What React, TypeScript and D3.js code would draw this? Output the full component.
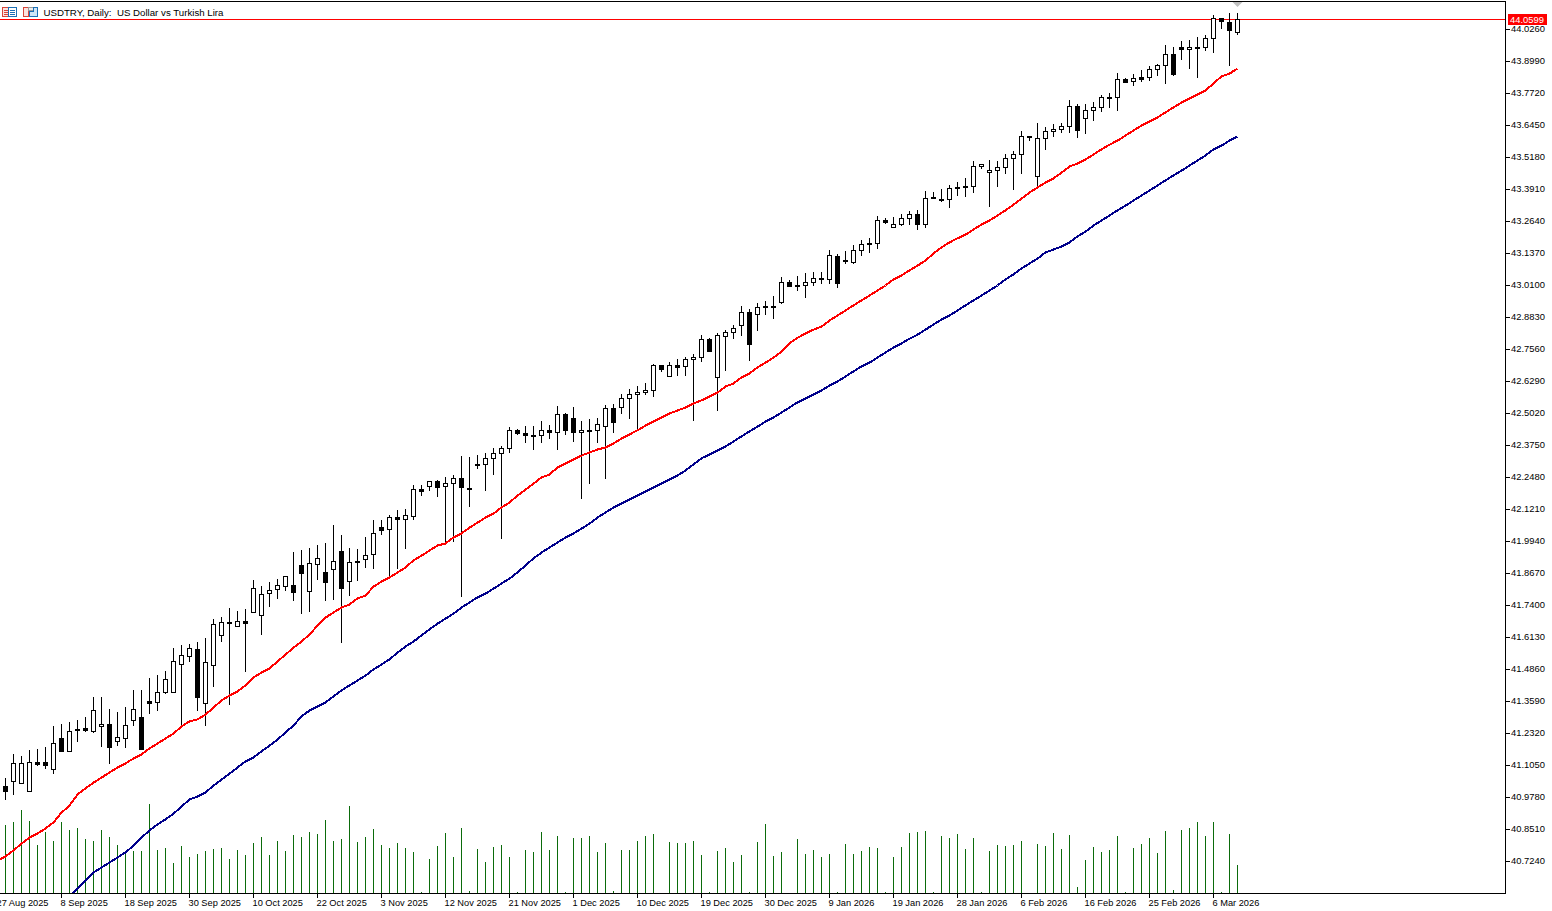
import React from "react";
import * as d3 from "d3";

const title = "USDTRY, Daily:  US Dollar vs Turkish Lira";
const lastBidLabel = "44.0599";

const opens = [41.021,41.041,41.033,41.002,41.117,41.117,41.089,41.212,41.161,41.248,
41.252,41.240,41.260,41.268,41.200,41.212,41.284,41.296,41.359,41.355,
41.395,41.395,41.506,41.538,41.565,41.351,41.502,41.621,41.670,41.656,
41.676,41.712,41.700,41.787,41.803,41.815,41.819,41.899,41.795,41.903,
41.871,41.883,41.954,41.835,41.911,41.923,41.942,42.049,42.042,42.089,
42.081,42.093,42.200,42.212,42.232,42.212,42.224,42.244,42.204,42.300,
42.300,42.324,42.343,42.363,42.435,42.423,42.411,42.415,42.435,42.427,
42.498,42.482,42.427,42.431,42.435,42.451,42.522,42.526,42.561,42.577,
42.585,42.593,42.692,42.649,42.692,42.689,42.716,42.724,42.795,42.645,
42.807,42.823,42.851,42.903,42.895,42.927,42.927,42.943,43.022,43.010,
43.010,43.022,43.038,43.034,43.125,43.109,43.101,43.149,43.177,43.177,
43.268,43.240,43.252,43.276,43.292,43.252,43.359,43.347,43.351,43.399,
43.403,43.403,43.482,43.458,43.466,43.478,43.514,43.530,43.597,43.443,
43.593,43.621,43.629,43.641,43.721,43.673,43.705,43.717,43.752,43.756,
43.828,43.820,43.835,43.835,43.867,43.883,43.927,43.954,43.947,43.950,
43.954,43.990,44.070,44.054,44.014];

const highs = [41.053,41.149,41.141,41.165,41.169,41.177,41.260,41.268,41.276,41.284,
41.296,41.375,41.375,41.327,41.315,41.335,41.403,41.403,41.450,41.462,
41.478,41.569,41.581,41.585,41.593,41.609,41.684,41.692,41.728,41.716,
41.724,41.839,41.815,41.831,41.843,41.855,41.950,41.958,41.966,41.978,
41.986,42.057,42.018,41.966,41.962,42.010,42.077,42.077,42.097,42.117,
42.121,42.216,42.216,42.232,42.236,42.248,42.256,42.332,42.328,42.335,
42.343,42.363,42.371,42.447,42.439,42.451,42.451,42.470,42.454,42.530,
42.502,42.526,42.470,42.478,42.482,42.534,42.538,42.577,42.597,42.609,
42.621,42.696,42.692,42.704,42.716,42.724,42.736,42.811,42.799,42.819,
42.831,42.851,42.927,42.915,42.939,42.947,42.967,43.042,43.030,43.046,
43.058,43.062,43.062,43.149,43.133,43.145,43.169,43.189,43.197,43.284,
43.276,43.280,43.292,43.304,43.308,43.383,43.379,43.391,43.407,43.419,
43.435,43.502,43.490,43.506,43.502,43.530,43.542,43.621,43.601,43.653,
43.637,43.649,43.653,43.744,43.729,43.729,43.737,43.764,43.772,43.851,
43.832,43.847,43.863,43.879,43.887,43.962,43.954,43.978,43.982,43.994,
44.002,44.082,44.070,44.090,44.090];

const lows = [40.970,40.990,41.033,41.002,41.105,41.093,41.073,41.161,41.161,41.200,
41.240,41.236,41.180,41.113,41.184,41.177,41.264,41.169,41.311,41.323,
41.391,41.395,41.268,41.518,41.323,41.264,41.418,41.597,41.347,41.656,
41.478,41.712,41.625,41.736,41.767,41.799,41.760,41.708,41.716,41.843,
41.760,41.763,41.593,41.779,41.839,41.891,41.887,42.022,41.851,41.887,
41.966,42.081,42.176,42.196,42.172,41.986,41.994,41.776,42.133,42.284,
42.196,42.260,42.006,42.347,42.419,42.387,42.359,42.387,42.403,42.359,
42.419,42.391,42.165,42.224,42.387,42.244,42.427,42.502,42.482,42.439,
42.577,42.569,42.669,42.649,42.653,42.653,42.474,42.708,42.748,42.514,
42.673,42.799,42.811,42.712,42.831,42.895,42.879,42.939,43.006,42.990,
42.962,43.010,43.018,43.018,43.002,43.097,43.097,43.129,43.141,43.157,
43.256,43.240,43.248,43.252,43.232,43.240,43.355,43.343,43.319,43.367,
43.363,43.379,43.474,43.323,43.403,43.454,43.391,43.454,43.585,43.407,
43.550,43.601,43.617,43.617,43.597,43.613,43.665,43.701,43.717,43.705,
43.816,43.804,43.820,43.824,43.843,43.812,43.843,43.907,43.871,43.835,
43.943,43.935,44.030,43.883,44.006];

const closes = [41.002,41.113,41.113,41.117,41.109,41.105,41.192,41.161,41.240,41.244,
41.244,41.323,41.268,41.177,41.216,41.264,41.327,41.169,41.351,41.395,
41.446,41.518,41.541,41.569,41.375,41.514,41.664,41.672,41.672,41.676,
41.668,41.807,41.783,41.799,41.819,41.855,41.791,41.867,41.907,41.927,
41.831,41.915,41.807,41.911,41.915,41.938,42.026,42.038,42.089,42.081,
42.097,42.200,42.192,42.232,42.208,42.224,42.244,42.208,42.200,42.296,
42.324,42.343,42.363,42.435,42.423,42.415,42.415,42.435,42.427,42.498,
42.435,42.427,42.435,42.435,42.458,42.522,42.466,42.561,42.577,42.585,
42.593,42.692,42.677,42.692,42.685,42.716,42.724,42.795,42.748,42.811,
42.823,42.839,42.903,42.776,42.923,42.923,42.923,43.022,43.006,43.006,
43.022,43.038,43.034,43.129,43.018,43.105,43.149,43.173,43.173,43.268,
43.260,43.252,43.276,43.292,43.252,43.355,43.355,43.351,43.395,43.395,
43.399,43.482,43.490,43.466,43.478,43.514,43.530,43.601,43.601,43.593,
43.621,43.629,43.641,43.721,43.625,43.705,43.717,43.756,43.756,43.828,
43.816,43.832,43.828,43.867,43.883,43.927,43.847,43.947,43.954,43.954,
43.990,44.070,44.058,44.022,44.066];

const tickVolumes = [6800,7100,8300,7200,4800,6100,5200,7100,6300,6500,
5400,5200,6300,5600,4800,4100,4200,4200,8900,4300,
4500,3000,4700,3600,3900,4200,4400,4500,3400,4300,
3800,5000,5600,3800,5200,4200,5800,5600,6100,5900,
7300,5200,5400,8700,5100,5600,6400,4800,4500,5000,
4500,4100,100,3400,4700,6000,3600,6500,200,4400,
3100,4600,4800,3600,100,4300,4100,6100,4300,5700,
100,5500,5500,5700,4100,5000,200,4300,4300,5200,
5700,5900,0,5100,5000,5000,5200,3800,100,4200,
4500,3100,3800,100,5100,6900,3700,4100,0,5400,
3900,4300,3600,3900,100,4900,3900,4200,4600,4500,
100,3600,4600,6000,6100,6200,100,5700,5500,5900,
4400,5500,100,4200,4800,4700,4800,5200,0,4900,
4700,6000,4400,5800,600,3300,4600,4100,4300,5700,
100,4500,4900,5500,4000,6200,300,6300,6500,7100,
5700,7100,100,5900,2800];

// the red average's first reading lies one bar before the first candle
const redStartBar = -1;
const redAverage = [40.728,40.744,40.768,40.795,40.819,40.835,40.855,40.879,40.918,40.946,40.990,
41.014,41.037,41.057,41.077,41.097,41.113,41.133,41.149,41.173,41.192,
41.212,41.232,41.260,41.280,41.288,41.307,41.335,41.363,41.383,41.399,
41.423,41.454,41.474,41.490,41.518,41.545,41.573,41.597,41.625,41.660,
41.692,41.712,41.732,41.744,41.768,41.779,41.815,41.835,41.851,41.871,
41.891,41.919,41.938,41.958,41.978,41.986,42.010,42.026,42.049,42.069,
42.089,42.105,42.129,42.149,42.176,42.200,42.224,42.248,42.260,42.288,
42.304,42.319,42.335,42.347,42.359,42.367,42.383,42.403,42.419,42.435,
42.454,42.470,42.486,42.502,42.514,42.526,42.542,42.554,42.569,42.585,
42.609,42.621,42.645,42.661,42.685,42.704,42.724,42.748,42.780,42.803,
42.819,42.835,42.847,42.871,42.891,42.911,42.931,42.951,42.970,42.990,
43.010,43.034,43.050,43.070,43.089,43.109,43.137,43.161,43.181,43.197,
43.212,43.232,43.252,43.268,43.288,43.308,43.331,43.355,43.379,43.399,
43.419,43.435,43.458,43.482,43.494,43.510,43.530,43.550,43.569,43.585,
43.605,43.625,43.645,43.661,43.677,43.697,43.717,43.736,43.752,43.768,
43.784,43.812,43.840,43.851,43.871];

const blueStartBar = 8;
const blueAverage = [40.585,40.617,40.649,40.680,40.700,40.720,40.740,40.760,40.787,40.819,
40.847,40.871,40.891,40.914,40.942,40.970,40.982,40.998,41.025,41.049,
41.073,41.097,41.121,41.137,41.161,41.184,41.208,41.236,41.264,41.300,
41.323,41.339,41.355,41.379,41.403,41.423,41.442,41.462,41.486,41.506,
41.526,41.553,41.577,41.597,41.621,41.645,41.668,41.688,41.708,41.732,
41.752,41.772,41.787,41.807,41.827,41.847,41.871,41.899,41.927,41.950,
41.970,41.990,42.010,42.026,42.045,42.065,42.089,42.109,42.129,42.145,
42.161,42.176,42.192,42.208,42.224,42.240,42.256,42.276,42.300,42.324,
42.339,42.355,42.371,42.391,42.411,42.431,42.450,42.470,42.486,42.506,
42.526,42.546,42.561,42.577,42.593,42.613,42.629,42.649,42.669,42.689,
42.704,42.724,42.744,42.764,42.780,42.799,42.815,42.835,42.855,42.875,
42.891,42.911,42.931,42.951,42.970,42.990,43.010,43.034,43.054,43.078,
43.097,43.117,43.141,43.153,43.165,43.181,43.205,43.224,43.248,43.268,
43.288,43.308,43.327,43.347,43.367,43.387,43.407,43.427,43.447,43.466,
43.486,43.506,43.526,43.550,43.565,43.585,43.601];

const priceTicks = ["44.0260","43.8990","43.7720","43.6450","43.5180","43.3910","43.2640","43.1370","43.0100",
"42.8830","42.7560","42.6290","42.5020","42.3750","42.2480","42.1210","41.9940","41.8670","41.7400",
"41.6130","41.4860","41.3590","41.2320","41.1050","40.9780","40.8510","40.7240"];

const dateTicks = ["27 Aug 2025","8 Sep 2025","18 Sep 2025","30 Sep 2025","10 Oct 2025","22 Oct 2025","3 Nov 2025",
"12 Nov 2025","21 Nov 2025","1 Dec 2025","10 Dec 2025","19 Dec 2025","30 Dec 2025","9 Jan 2026","19 Jan 2026",
"28 Jan 2026","6 Feb 2026","16 Feb 2026","25 Feb 2026","6 Mar 2026"];
const firstDateBar = -1;
const barsPerDateTick = 8;

const W = 1552, H = 911;
const plotRight = 1505.5, plotBottom = 893.5, plotTop = 1.5;
const font = "'Liberation Sans', Arial, sans-serif";

const x = d3.scaleLinear().domain([0, 154]).range([5.5, 1237.5]);
const y = d3.scaleLinear().domain([44.026, 40.724]).range([29.5, 861.5]);
const row = (p: number) => Math.round(y(p) - 0.5) + 0.5;
const vol = d3.scaleLinear().domain([0, 9000]).range([893, 803]);

const avgLine = (start: number) =>
  d3.line<number>().x((_, i) => x(start + i)).y((d) => y(d));

export default function App() {
  const lastX = x(opens.length - 1);
  const bidY = row(closes[closes.length - 1]);
  return (
    <svg width={W} height={H} viewBox={`0 0 ${W} ${H}`}
      style={{ position: "absolute", left: 0, top: 0, background: "#fff", fontFamily: font }}>
      <defs>
        <clipPath id="plot"><rect x={0} y={2} width={1505} height={891} /></clipPath>
      </defs>

      {/* volumes */}
      <g stroke="#0b6b0b" strokeWidth={1} shapeRendering="crispEdges">
        {tickVolumes.map((v, i) => v > 0 && (
          <line key={i} x1={x(i)} x2={x(i)} y1={893} y2={vol(v)} />
        ))}
      </g>

      {/* bid line */}
      <line x1={0} x2={plotRight} y1={bidY} y2={bidY} stroke="#ff0000" strokeWidth={1} shapeRendering="crispEdges" />

      {/* candles */}
      <g shapeRendering="crispEdges">
        {opens.map((o, i) => {
          const c = closes[i];
          const cx = x(i);
          const top = row(Math.max(o, c));
          const bot = row(Math.min(o, c));
          const up = c >= o;
          return (
            <g key={i}>
              <line x1={cx} x2={cx} y1={row(highs[i]) - 0.5} y2={row(lows[i]) + 0.5} stroke="#000" />
              {up ? (
                <rect x={cx - 2} y={top} width={4} height={bot - top} fill="#fff" stroke="#000" />
              ) : (
                <rect x={cx - 2.5} y={top - 0.5} width={5} height={bot - top + 1} fill="#000" />
              )}
            </g>
          );
        })}
      </g>

      {/* moving averages */}
      <g clipPath="url(#plot)" fill="none" strokeWidth={2} strokeLinejoin="round" shapeRendering="crispEdges">
        <path d={avgLine(blueStartBar)(blueAverage) ?? ""} stroke="#00008b" />
        <path d={avgLine(redStartBar)(redAverage) ?? ""} stroke="#ff0000" />
      </g>

      {/* last-bar marker */}
      <path d={d3.line()([[lastX - 5, 2], [lastX + 5, 2], [lastX, 7]]) + "Z"} fill="#c0c0c0" />

      {/* frame */}
      <g stroke="#000" strokeWidth={1} shapeRendering="crispEdges">
        <line x1={0} x2={plotRight} y1={plotTop} y2={plotTop} />
        <line x1={0} x2={plotRight} y1={plotBottom} y2={plotBottom} />
        <line x1={plotRight} x2={plotRight} y1={plotTop} y2={plotBottom} />
      </g>

      {/* title icons */}
      <g shapeRendering="crispEdges" fill="none" strokeWidth={1}>
        <rect x={2.5} y={7.5} width={6} height={9} stroke="#d8453a" fill="#fbe3df" />
        <rect x={8.5} y={7.5} width={8} height={9} stroke="#1c6fb5" fill="#fff" />
        <path d="M4 10.5H8M4 12.5H8M4 14.5H8" stroke="#d8453a" />
        <path d="M10 10.5H15M10 12.5H15M10 14.5H15" stroke="#1c6fb5" />
        <path d="M23.5 7.5H28.5V16.5H23.5Z" stroke="#d8453a" fill="#fbe3df" />
        <path d="M28.5 7.5H33.5V10.5H28.5Z" stroke="#9a9a9a" fill="#eeeeee" />
        <path d="M33.5 7.5H37.5V16.5H29.5V11.5H33.5Z" stroke="#1c6fb5" fill="#cfe5f6" />
      </g>
      <text x={43.5} y={16} fontSize={9.7} fill="#000" style={{ whiteSpace: "pre" }}>{title}</text>

      {/* price axis */}
      <g fontSize={9.4} fill="#000">
        {priceTicks.map((t) => {
          const ty = row(+t);
          return (
            <g key={t}>
              <line x1={plotRight} x2={1510} y1={ty} y2={ty} stroke="#000" shapeRendering="crispEdges" />
              <text x={1511} y={ty + 2.5}>{t}</text>
            </g>
          );
        })}
      </g>
      <rect x={1508} y={14} width={39} height={11} fill="#ff0000" />
      <text x={1510} y={22.5} fontSize={9.4} fill="#fff">{lastBidLabel}</text>

      {/* time axis */}
      <g fontSize={9.25} fill="#000">
        {dateTicks.map((t, k) => {
          const tx = x(firstDateBar + k * barsPerDateTick);
          return (
            <g key={t}>
              <line x1={tx} x2={tx} y1={plotBottom} y2={898} stroke="#000" shapeRendering="crispEdges" />
              <text x={tx - 1} y={905.5}>{t}</text>
            </g>
          );
        })}
      </g>
    </svg>
  );
}
